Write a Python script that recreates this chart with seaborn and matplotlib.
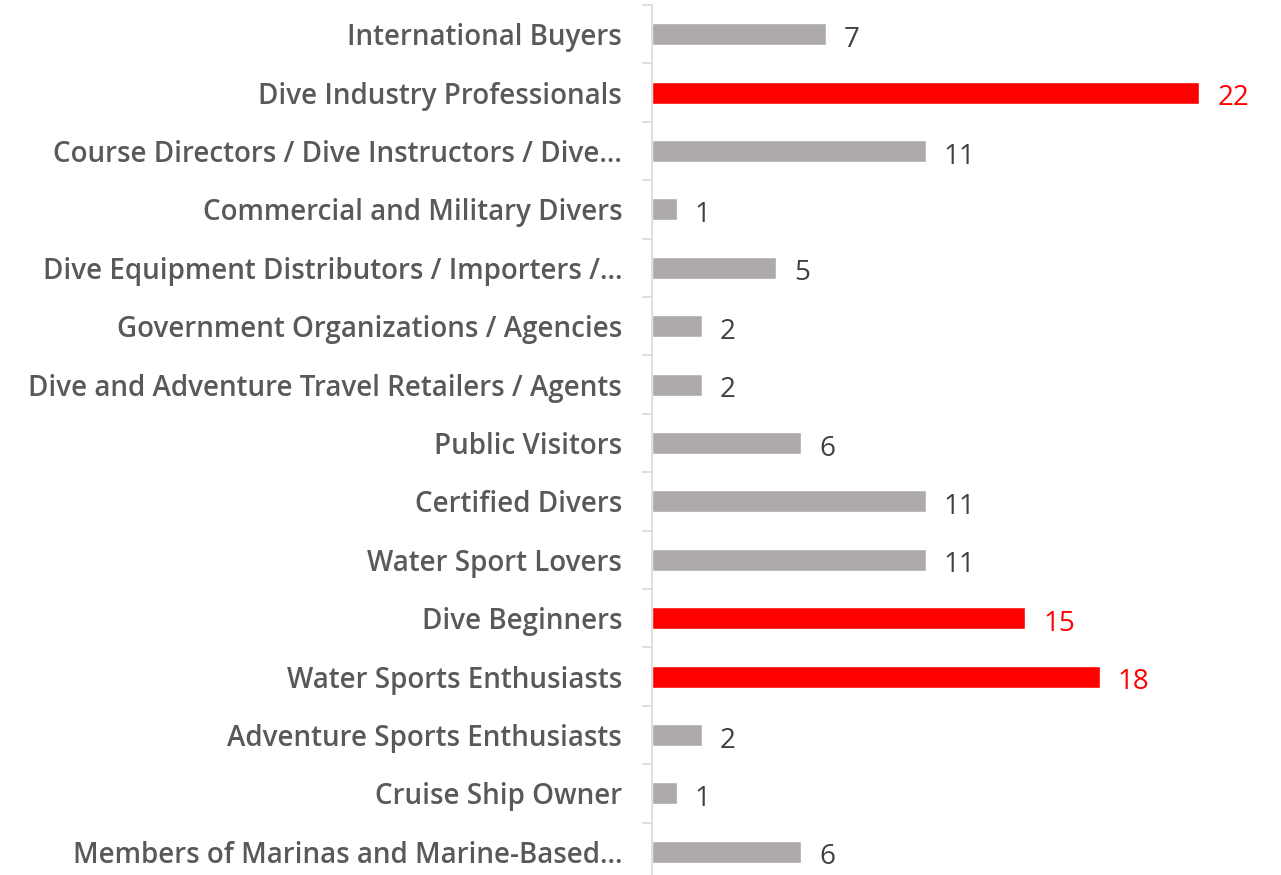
import matplotlib
matplotlib.use("Agg")
import matplotlib.pyplot as plt
import seaborn as sns
import pandas as pd

sns.set_theme(style="white")
plt.rcParams['font.family'] = ['Open Sans', 'DejaVu Sans']

categories = [
    "International Buyers",
    "Dive Industry Professionals",
    "Course Directors / Dive Instructors / Dive…",
    "Commercial and Military Divers",
    "Dive Equipment Distributors / Importers /…",
    "Government Organizations / Agencies",
    "Dive and Adventure Travel Retailers / Agents",
    "Public Visitors",
    "Certified Divers",
    "Water Sport Lovers",
    "Dive Beginners",
    "Water Sports Enthusiasts",
    "Adventure Sports Enthusiasts",
    "Cruise Ship Owner",
    "Members of Marinas and Marine-Based…",
]
values = [7, 22, 11, 1, 5, 2, 2, 6, 11, 11, 15, 18, 2, 1, 6]
highlight = [False, True, False, False, False, False, False, False,
             False, False, True, True, False, False, False]

GRAY = "#AEAAAA"
RED = "#FF0000"

df = pd.DataFrame({"category": categories, "value": values,
                   "group": ["hi" if h else "lo" for h in highlight]})

fig = plt.figure(figsize=(12.81, 8.75), dpi=100)
ax = fig.add_axes([652 / 1281, 1 - 881 / 875, 622 / 1281, 876 / 875])

sns.barplot(data=df, x="value", y="category", hue="group", order=categories,
            palette={"hi": RED, "lo": GRAY}, dodge=False, width=0.38,
            legend=False, ax=ax, saturation=1)

ax.set_xlim(0, 25)
ax.set_ylim(14.5, -0.5)
ax.set_xlabel("")
ax.set_ylabel("")
ax.set_xticks([])

for s in ["top", "right", "bottom"]:
    ax.spines[s].set_visible(False)
ax.spines["left"].set_color("#D9D9D9")
ax.spines["left"].set_linewidth(1.2)

# small ticks sit between the categories
ax.set_yticks([i + 0.5 for i in range(-1, len(categories))], minor=True)
ax.tick_params(axis="y", which="minor", length=7.5, width=1.2, color="#D9D9D9", left=True)
ax.tick_params(axis="y", which="major", length=0, pad=21.5)
for lbl in ax.get_yticklabels():
    lbl.set_fontsize(20)
    lbl.set_fontweight(600)
    lbl.set_color("#595959")

for container in ax.containers:
    for bar in container:
        w = bar.get_width()
        if w != w:
            continue
        idx = int(round(bar.get_y() + bar.get_height() / 2))
        col = RED if highlight[idx] else "#404040"
        ax.annotate(f"{values[idx]:d}", (w, idx), xytext=(13, -1.5),
                    textcoords="offset points", va="center_baseline", ha="left",
                    fontsize=20, color=col)

fig.savefig("out.png", dpi=100)
